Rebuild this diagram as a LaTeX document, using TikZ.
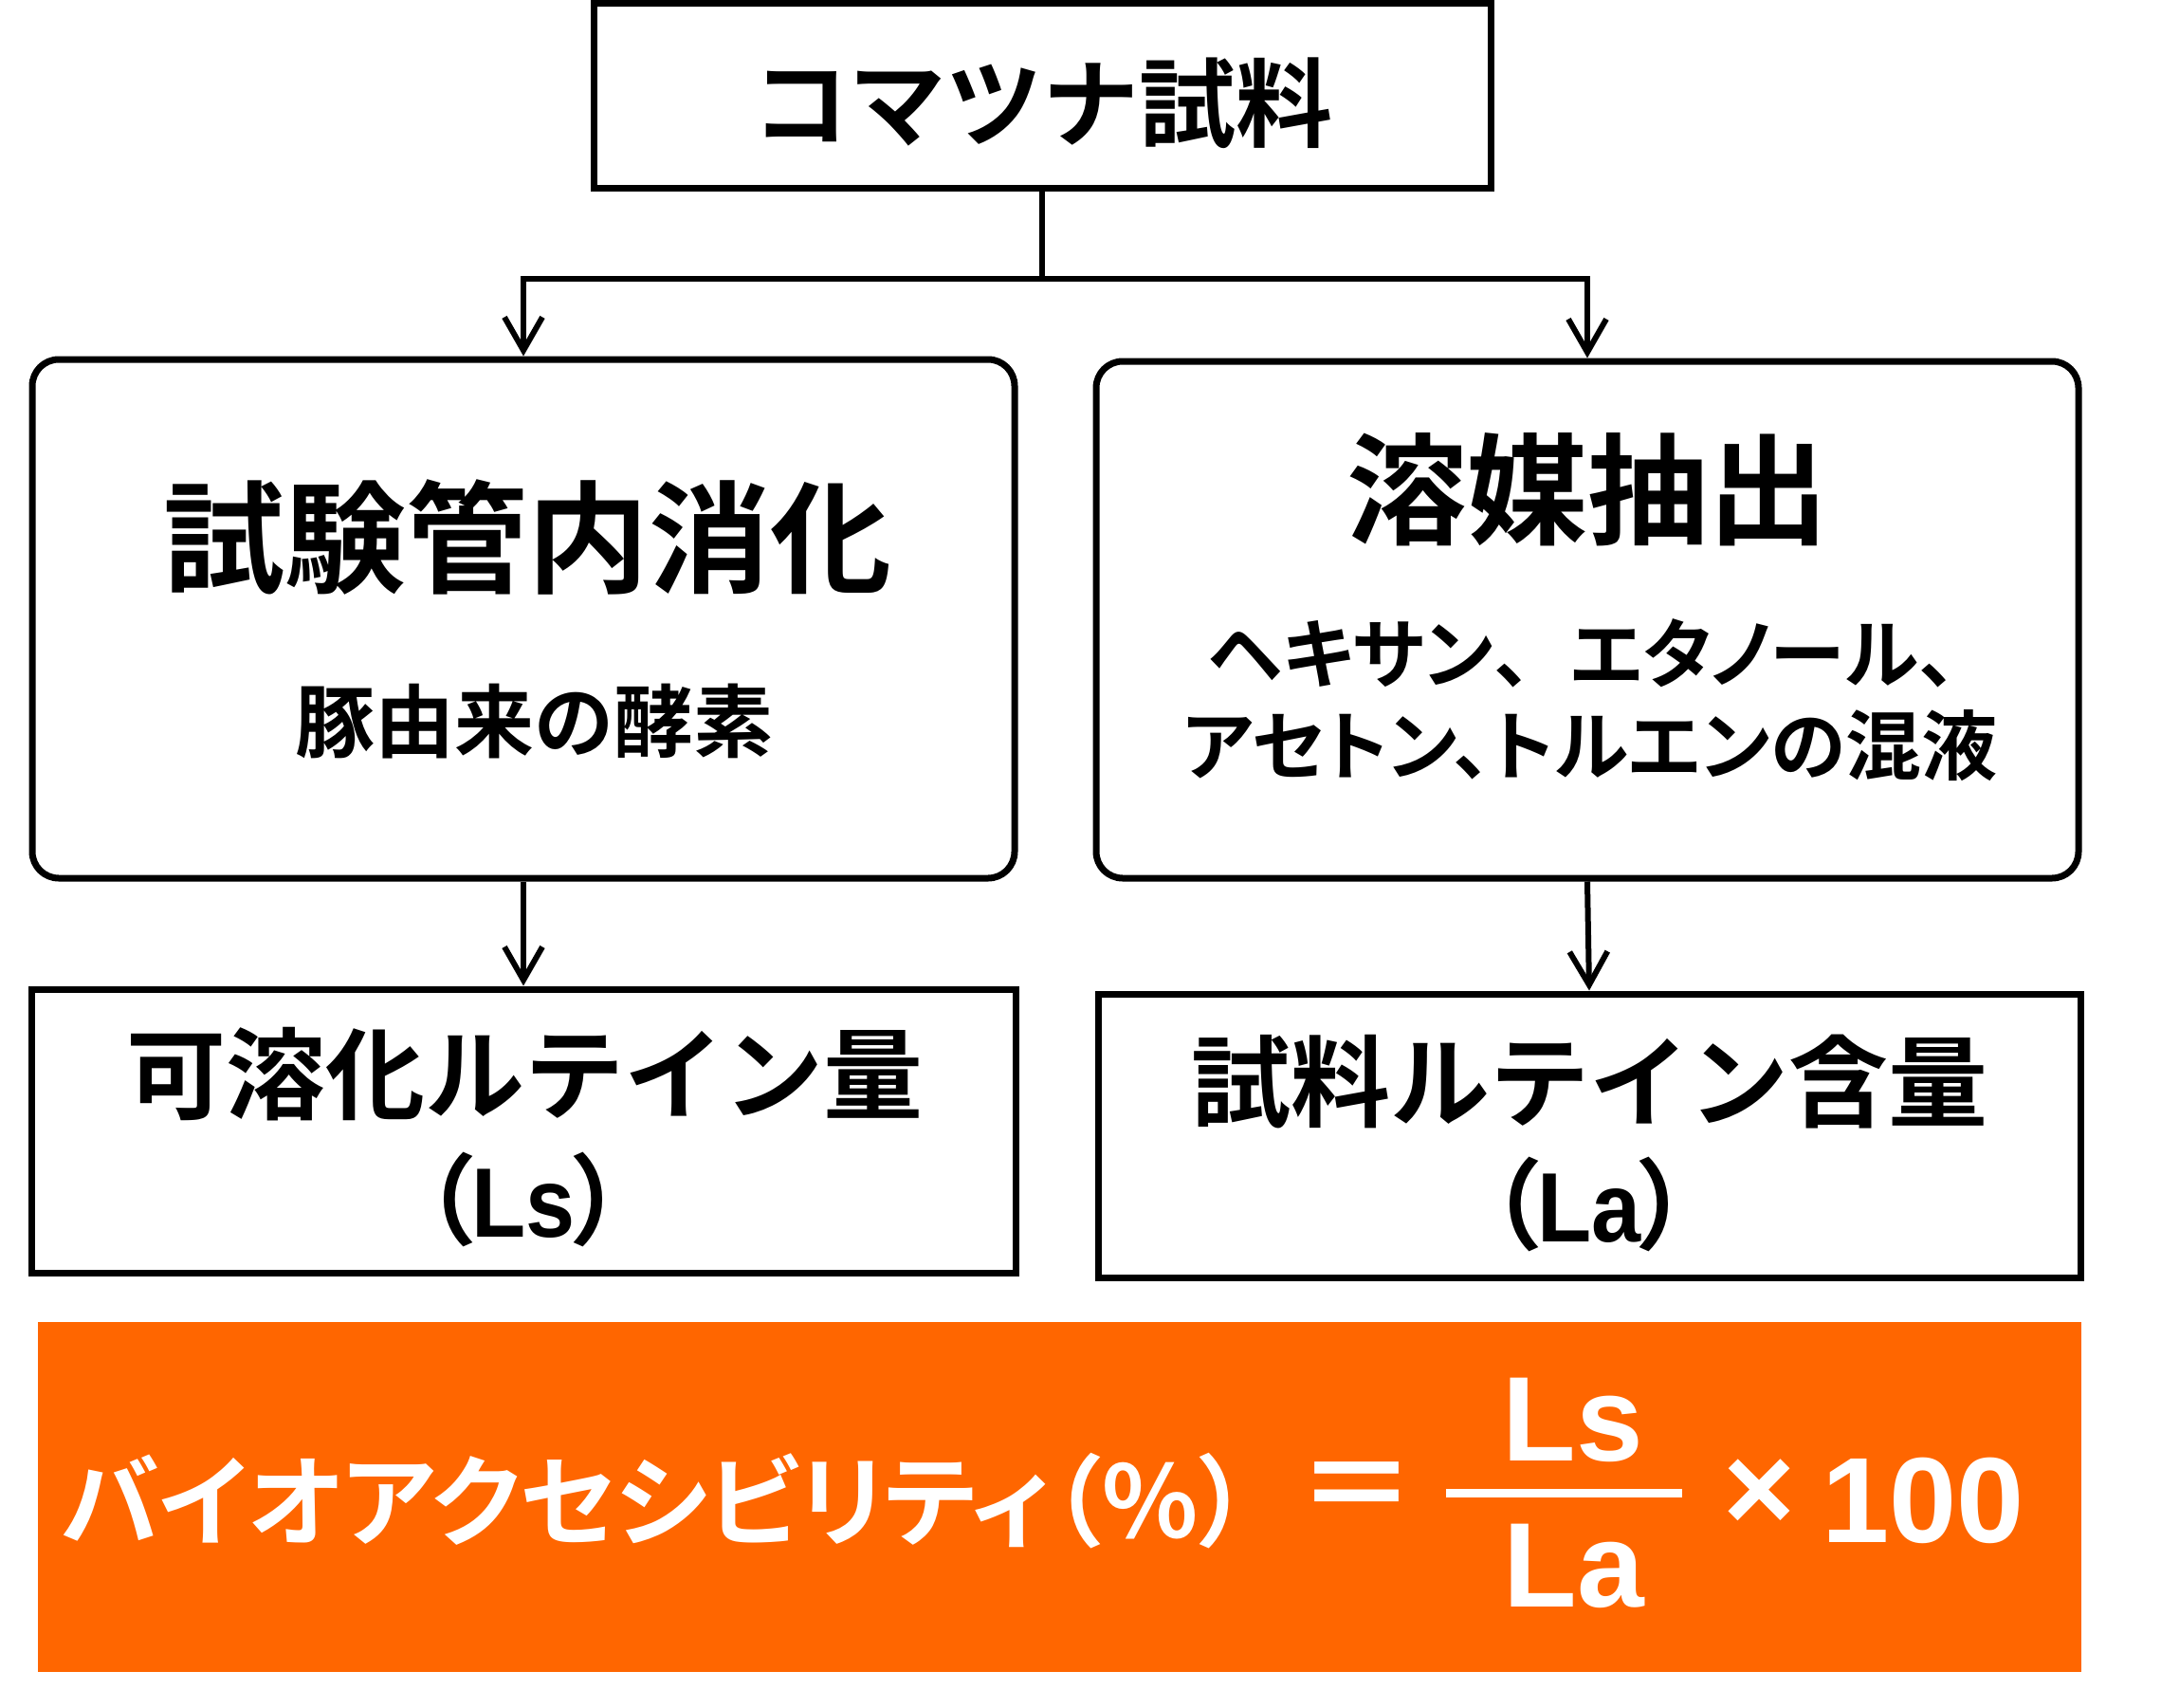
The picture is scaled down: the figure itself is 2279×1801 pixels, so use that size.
\documentclass[tikz,border=0pt]{standalone}
\usepackage{fontspec}
\usetikzlibrary{arrows.meta}
\newfontfamily\jp{Noto Sans CJK JP Bold}
\newfontfamily\jpp{Noto Sans CJK JP Bold}[RawFeature=+palt]
\newfontfamily\ar{Liberation Sans Bold}
\definecolor{orng}{RGB}{255,102,0}
\newcommand\fs[1]{\fontsize{#1pt}{#1pt}\selectfont}
\newcommand\sx[2]{\scalebox{#1}[1]{#2}}
\tikzset{
  box/.style={draw, line width=7pt, inner sep=0pt, minimum width=1036pt},
  rbox/.style={box, rounded corners=28pt},
  conn/.style={line width=6pt},
  arr/.style={conn, -{Straight Barb[length=35pt, width=40pt]}},
  txt/.style={inner sep=0pt},
}
\begin{document}
\begin{tikzpicture}[x=1pt,y=-1pt]
\useasboundingbox (0,0) rectangle (2279,1801);
% boxes
\node[box, minimum width=946pt, minimum height=194pt] (top) at (1099,101) {};
\node[rbox, minimum height=547pt] (tl) at (552,652.5) {};
\node[rbox, minimum height=545pt] (tr) at (1674,653.5) {};
\node[box, minimum width=1038pt, minimum height=299pt] (bl) at (552,1192.5) {};
\node[box, minimum height=299pt] (br) at (1676,1197.5) {};
\node[fill=orng, inner sep=0pt, minimum width=2155pt, minimum height=369pt] (res) at (1117.5,1578.5) {};
% connectors
\draw[conn] (top.south) -- ++(0,92) coordinate (mid);
\draw[arr] (mid) -| (tl.north);
\draw[arr] (mid) -| (tr.north);
\draw[arr] (tl.south) -- (bl.north);
\draw[arr] (tr.south) -- (br.north);
% texts
\node[txt, font=\jp\fs{102}] (t0) at (1099,109) {コマツナ試料};
\node[txt, font=\jp\fs{128}] (t1) at (556,566) {試験管内消化};
\node[txt, font=\jp\fs{84}] (t2) at (563,761) {豚由来の酵素};
\node[txt, font=\jp\fs{127}] (t3) at (1674,516) {溶媒抽出};
\node[txt, font=\jpp\fs{80}] (t4) at (1669,689) {ヘキサン{\jp 、}エタノール、};
\node[txt, font=\jpp\fs{80}] (t5) at (1677,786) {アセトン、トルエンの混液};
\node[txt, font=\jp\fs{105}] (t6) at (553,1133) {可溶化ルテイン量};
\node[txt, font=\jp\fs{104}] (t7) at (552,1265) {（\kern-6pt\sx{0.9}{\ar Ls}\kern-6pt）};
\node[txt, font=\jp\fs{105}] (t8) at (1676,1141) {試料ルテイン含量};
\node[txt, font=\jp\fs{104}] (t9) at (1676,1270) {（\kern-6pt\sx{0.9}{\ar La}\kern-6pt）};
% formula
\node[txt, text=white, font=\jpp\fs{105}] (bio) at (691,1583) {バイオアクセシビリティ（％）};
\node[txt, text=white, font=\jp\fs{125}] (eq) at (1431,1577) {＝};
\node[txt, text=white, font=\ar\fs{127}, anchor=base] (ls) at (1659,1540) {Ls};
\node[txt, text=white, font=\ar\fs{127}, anchor=base] (la) at (1660,1694) {La};
\draw[white, line width=9pt] (1525,1574.5) -- (1774,1574.5);
\node[txt, text=white, font=\ar\fs{130}] (times) at (1855,1577) {×};
\node[txt, text=white, font=\ar\fs{128}, anchor=base] (hund) at (2028,1626) {100};
\end{tikzpicture}
\end{document}
